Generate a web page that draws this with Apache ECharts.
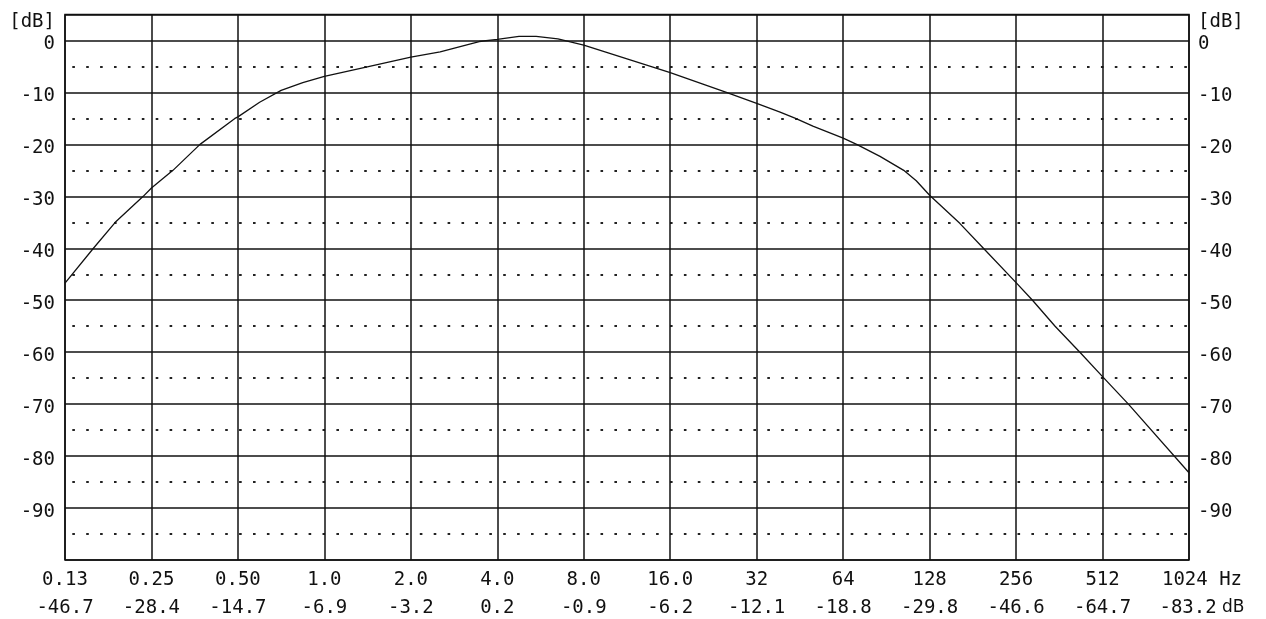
<!DOCTYPE html>
<html>
<head>
<meta charset="utf-8">
<script src="https://cdn.jsdelivr.net/npm/echarts@6/dist/echarts.min.js"></script>
<style>
html,body{margin:0;padding:0;background:#fff;}
#chart{width:1266px;height:619px;}
</style>
</head>
<body>
<div id="chart"></div>
<script>
// Octave tick labels (frequency row and response row)
const freqLabels = ['0.13','0.25','0.50','1.0','2.0','4.0','8.0','16.0','32','64','128','256','512','1024'];
const dbLabels = ['-46.7','-28.4','-14.7','-6.9','-3.2','0.2','-0.9','-6.2','-12.1','-18.8','-29.8','-46.6','-64.7','-83.2'];
const yTickLabels = ['0','-10','-20','-30','-40','-50','-60','-70','-80','-90'];
const yUnit = '[dB]';

// Response curve: frequency (Hz) and level (dB)
const curveFreq = [0.125, 0.157, 0.187, 0.234, 0.25, 0.297, 0.369, 0.488, 0.5, 0.595, 0.707, 0.841, 1.0, 1.41, 2.0, 2.53, 3.46, 4.0, 4.76, 5.46, 6.5, 8.0, 16.0, 25.1, 32.0, 38.6, 43.7, 50.2, 64.0, 71.3, 86.0, 104.0, 115.0, 128.0, 163.0, 197.0, 256.0, 292.0, 350.0, 427.0, 512.0, 630.0, 1024.0];
const curveDb   = [-46.7, -40.0, -35.0, -30.0, -28.4, -25.0, -20.0, -15.0, -14.7, -11.9, -9.6, -8.1, -6.9, -5.1, -3.2, -2.2, -0.2, 0.2, 0.8, 0.8, 0.3, -0.9, -6.2, -10.0, -12.1, -13.8, -15.0, -16.5, -18.8, -20.0, -22.3, -25.0, -27.0, -29.8, -35.2, -40.0, -46.6, -50.0, -55.0, -60.0, -64.7, -70.0, -83.2];

const FONT = '"DejaVu Sans Mono", monospace';
const seriesData = curveFreq.map((f, i) => [Math.log2(f), curveDb[i]]);

const chart = echarts.init(document.getElementById('chart'), null, {renderer: 'canvas'});

function yLabel(v) {
  if (v >= 5) return '{u|' + yUnit + '}';
  const i = Math.round(-v / 10);
  return (i >= 0 && i < yTickLabels.length) ? yTickLabels[i] : '';
}

const yRich = {u: {fontFamily: FONT, fontSize: 19, lineHeight: 15, color: '#111'}};

const yCommon = {
  type: 'value', min: -100, max: 5, interval: 10,
  axisLine: {show: false}, axisTick: {show: false},
  splitLine: {show: false}
};

chart.setOption({
  animation: false,
  backgroundColor: '#fff',
  grid: {left: 65, right: 77, top: 14.5, bottom: 59, show: true, borderColor: '#111', borderWidth: 1.5, backgroundColor: 'transparent', outerBoundsMode: 'none', containLabel: false},
  xAxis: {
    type: 'value', min: -3, max: 10, interval: 1,
    axisLine: {show: false}, axisTick: {show: false},
    splitLine: {show: true, lineStyle: {color: '#111', width: 1.5}},
    axisLabel: {
      margin: 6,
      color: '#111',
      fontFamily: FONT, fontSize: 19,
      formatter: function (v) {
        const i = Math.round(v + 3);
        if (i < 0 || i >= freqLabels.length) return '';
        if (i === freqLabels.length - 1) {
          return '{fp|' + freqLabels[i] + '}{s| Hz}\n{dp|' + dbLabels[i] + '}{s2| dB}';
        }
        return '{f|' + freqLabels[i] + '}\n{d|' + dbLabels[i] + '}';
      },
      rich: {
        f: {fontFamily: FONT, fontSize: 19, lineHeight: 28, color: '#111'},
        d: {fontFamily: FONT, fontSize: 19, lineHeight: 28, color: '#111'},
        fp: {fontFamily: FONT, fontSize: 19, lineHeight: 28, color: '#111', padding: [0, 0, 0, 26]},
        dp: {fontFamily: FONT, fontSize: 19, lineHeight: 28, color: '#111', padding: [0, 0, 0, 26]},
        s: {fontFamily: FONT, fontSize: 19, lineHeight: 28, color: '#111'},
        s2: {fontFamily: '"DejaVu Sans", sans-serif', fontSize: 17, lineHeight: 28, color: '#111'}
      }
    }
  },
  yAxis: [
    Object.assign({}, yCommon, {
      position: 'left',
      splitLine: {show: true, lineStyle: {color: '#111', width: 1.5}},
      minorTick: {show: false, splitNumber: 2},
      minorSplitLine: {show: true, lineStyle: {color: '#222', width: 2, type: [2.6, 11.3], dashOffset: 6.6}},
      axisLabel: {margin: 10, color: '#111', fontFamily: FONT, fontSize: 19, verticalAlign: 'top', lineHeight: 8, formatter: yLabel, rich: yRich}
    }),
    Object.assign({}, yCommon, {
      position: 'right',
      axisLabel: {margin: 9, color: '#111', fontFamily: FONT, fontSize: 19, verticalAlign: 'top', lineHeight: 8, formatter: yLabel, rich: yRich}
    })
  ],
  series: [{
    type: 'line',
    data: seriesData,
    showSymbol: false,
    smooth: false,
    lineStyle: {color: '#111', width: 1.3},
    z: 5
  }]
});
</script>
</body>
</html>
